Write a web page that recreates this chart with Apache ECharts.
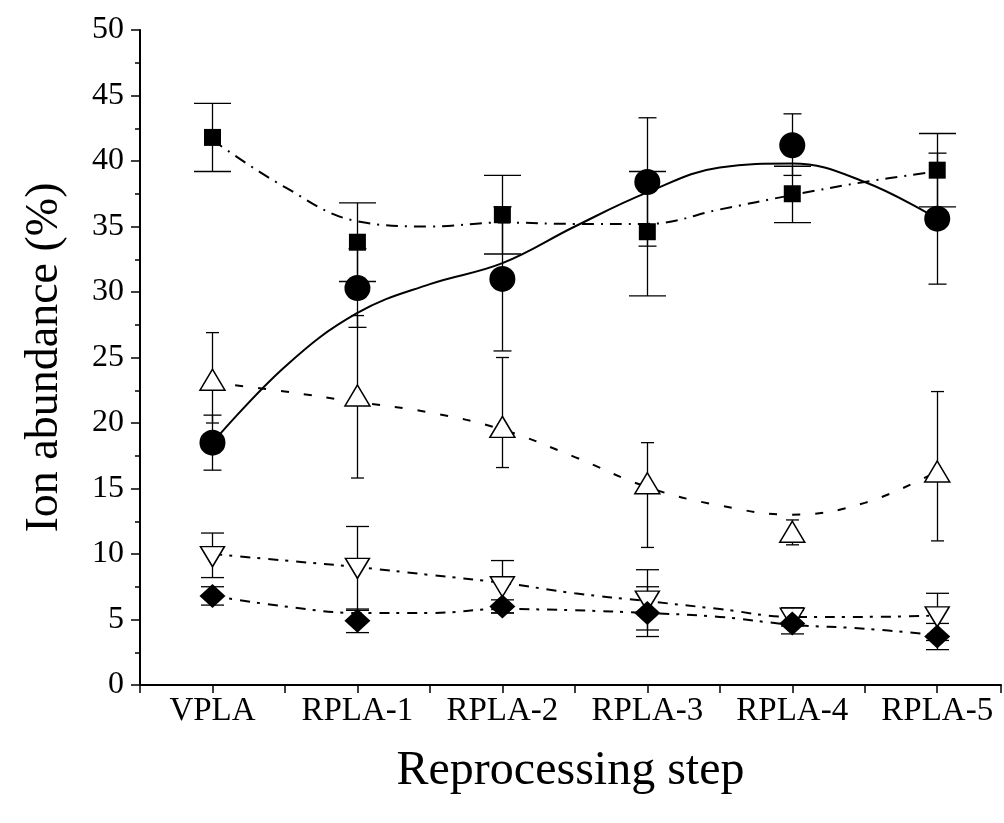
<!DOCTYPE html>
<html>
<head>
<meta charset="utf-8">
<title>Ion abundance</title>
<script src="https://cdn.jsdelivr.net/npm/echarts@6/dist/echarts.min.js"></script>
<style>
  html, body { margin: 0; padding: 0; background: #fff; }
  #main { width: 1004px; height: 823px; }
</style>
</head>
<body>
<div id="main"></div>
<script>
// categories on the x axis (positions 1..6)
const steps = ['VPLA', 'RPLA-1', 'RPLA-2', 'RPLA-3', 'RPLA-4', 'RPLA-5']

// measured points and their error bars [low, high]
const circleVals = [18.5, 30.3, 31.0, 38.4, 41.2, 35.6]
const circleErr = [[16.4, 20.6], [27.3, 33.3], [25.5, 36.5], [33.5, 43.3], [38.9, 43.6], [30.6, 40.6]]
const squareVals = [41.8, 33.8, 35.9, 34.6, 37.5, 39.3]
const squareErr = [[39.2, 44.4], [30.8, 36.8], [32.9, 38.9], [29.7, 39.2], [35.3, 39.6], [36.5, 42.1]]
const triVals = [23.3, 22.1, 19.7, 15.4, 11.7, 16.3]
const triErr = [[20.0, 26.9], [15.8, 28.2], [16.6, 25.0], [10.5, 18.5], [10.7, 12.6], [11.0, 22.4]]
const invTriVals = [9.8, 8.9, 7.5, 6.4, 5.1, 5.2]
const invTriErr = [[8.2, 11.6], [5.7, 12.1], [5.5, 9.5], [4.2, 8.8], [4.5, 5.7], [3.4, 7.0]]
const diamondVals = [6.8, 4.9, 6.0, 5.5, 4.7, 3.7]
const diamondErr = [[6.1, 7.5], [4.0, 5.8], [5.5, 6.5], [3.7, 7.5], [3.9, 5.9], [2.7, 4.7]]

// fitted curves, every half step
const fitX = [1, 1.5, 2, 2.5, 3, 3.5, 4, 4.5, 5, 5.5, 6]
const circleFit = [18.5, 24.3, 28.4, 30.6, 32.2, 35.0, 37.6, 39.5, 39.8, 38.4, 35.6]
const squareFit = [41.6, 38.0, 35.4, 35.0, 35.3, 35.2, 35.2, 36.3, 37.4, 38.4, 39.2]
const triFit = [23.1, 22.4, 21.6, 20.8, 19.5, 17.4, 15.1, 13.7, 13.0, 13.9, 16.3]
const invTriFit = [10.0, 9.5, 9.0, 8.4, 7.8, 7.0, 6.4, 5.8, 5.2, 5.2, 5.3]
const diamondFit = [6.8, 6.0, 5.5, 5.5, 5.8, 5.7, 5.5, 5.2, 4.6, 4.3, 3.8]

const serif = 'Liberation Serif'

function fitSeries(vals, dash) {
  return {
    type: 'line',
    data: vals.map((v, i) => [fitX[i], v]),
    smooth: 0.4,
    showSymbol: false,
    silent: true,
    z: 1,
    lineStyle: { color: '#000', width: 2, type: dash }
  }
}

function errorSeries(err, capWidth) {
  return {
    type: 'custom',
    silent: true,
    z: 2,
    encode: { x: 0, y: [1, 2] },
    data: err.map((e, i) => [i + 1, e[0], e[1]]),
    renderItem: function(params, api) {
      const x = api.value(0)
      const lo = api.coord([x, api.value(1)])
      const hi = api.coord([x, api.value(2)])
      const cx = Math.round(lo[0]) + 0.5
      const h = capWidth / 2
      const st = { stroke: '#000', lineWidth: 1.3 }
      return {
        type: 'group',
        children: [
          { type: 'line', shape: { x1: cx, y1: lo[1], x2: cx, y2: hi[1] }, style: st },
          { type: 'line', shape: { x1: cx - h, y1: lo[1], x2: cx + h, y2: lo[1] }, style: st },
          { type: 'line', shape: { x1: cx - h, y1: hi[1], x2: cx + h, y2: hi[1] }, style: st }
        ]
      }
    }
  }
}

function markerSeries(vals, symbol, size, filled, rotate) {
  return {
    type: 'scatter',
    data: vals.map((v, i) => [i + 1, v]),
    symbol: symbol,
    symbolSize: size,
    symbolRotate: rotate || 0,
    silent: true,
    z: 3,
    itemStyle: filled
      ? { color: '#000', borderColor: '#000', borderWidth: 0, opacity: 1 }
      : { color: '#fff', borderColor: '#000', borderWidth: 1.5, opacity: 1 }
  }
}

const myChart = echarts.init(document.getElementById('main'))
const option = {
  animation: false,
  backgroundColor: '#fff',
  grid: { left: 140, top: 30, bottom: 138, right: 0 },
  xAxis: {
    type: 'value',
    min: 0.5,
    max: 6.44,
    interval: 0.5,
    name: 'Reprocessing step',
    nameLocation: 'middle',
    nameGap: 62,
    nameTextStyle: { fontFamily: serif, fontSize: 48, color: '#000' },
    axisLine: { lineStyle: { color: '#000', width: 2 } },
    axisTick: { length: 8, lineStyle: { color: '#000', width: 1.5 } },
    axisLabel: {
      fontFamily: serif,
      fontSize: 33,
      color: '#000',
      margin: 10,
      formatter: v => (Number.isInteger(v) && v >= 1 && v <= 6 ? steps[v - 1] : '')
    },
    splitLine: { show: false }
  },
  yAxis: {
    type: 'value',
    min: 0,
    max: 50,
    interval: 5,
    name: 'Ion abundance (%)',
    nameLocation: 'middle',
    nameGap: 72,
    nameTextStyle: { fontFamily: serif, fontSize: 46, color: '#000' },
    axisLine: { show: true, lineStyle: { color: '#000', width: 2 } },
    axisTick: { length: 9, lineStyle: { color: '#000', width: 1.5 } },
    minorTick: { show: true, splitNumber: 2, length: 5, lineStyle: { color: '#000', width: 1.5 } },
    axisLabel: { fontFamily: serif, fontSize: 32, color: '#000', margin: 16 },
    splitLine: { show: false }
  },
  series: [
    fitSeries(circleFit, 'solid'),
    fitSeries(squareFit, [12, 7, 2, 7]),
    fitSeries(triFit, [8, 15]),
    fitSeries(invTriFit, [10, 7, 3, 8]),
    fitSeries(diamondFit, [10, 7, 3, 8]),
    errorSeries(squareErr, 37),
    errorSeries(circleErr, 18),
    errorSeries(triErr, 13),
    errorSeries(invTriErr, 23),
    errorSeries(diamondErr, 23),
    markerSeries(squareVals, 'rect', 17, true),
    markerSeries(circleVals, 'circle', 26, true),
    markerSeries(triVals, 'triangle', [25, 21], false),
    markerSeries(invTriVals, 'triangle', [24, 20], false, 180),
    markerSeries(diamondVals, 'diamond', [26, 24], true)
  ]
}
myChart.setOption(option)
</script>
</body>
</html>
